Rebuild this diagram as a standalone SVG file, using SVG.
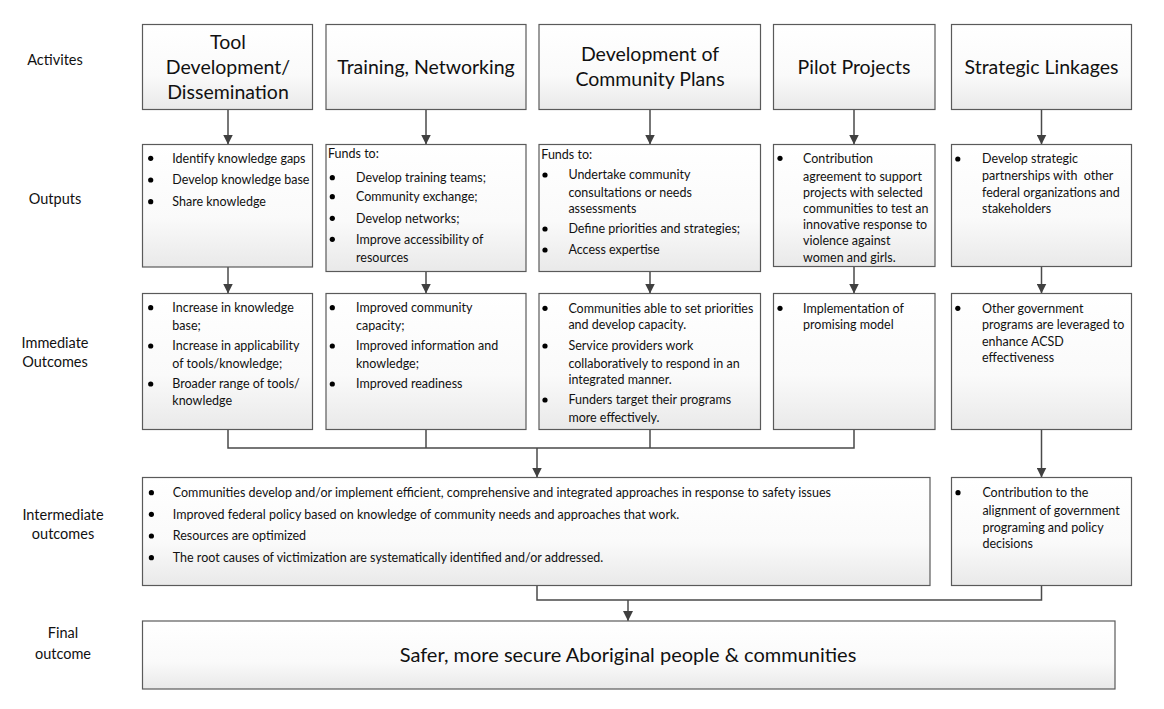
<svg xmlns="http://www.w3.org/2000/svg" width="1164" height="709" viewBox="0 0 1164 709">
<defs>
<linearGradient id="g" x1="0" y1="0" x2="0" y2="1">
<stop offset="0" stop-color="#ffffff"/>
<stop offset="0.6" stop-color="#fafafa"/>
<stop offset="1" stop-color="#e9e9e9"/>
</linearGradient>
<marker id="ah" markerWidth="10" markerHeight="10" refX="10" refY="5" orient="auto" markerUnits="userSpaceOnUse">
<path d="M0,0 L10,5 L0,10 z" fill="#404040"/>
</marker>
<style>
rect.b{fill:url(#g);stroke:#5a5a5a;stroke-width:1.2}
text{font-family:Lato,"Liberation Sans",sans-serif;fill:#111111}
.lbl{font-size:14.5px;text-anchor:middle}
.act{font-size:19.5px;text-anchor:middle}
.t{font-size:12.5px}
.ft{font-size:20px;text-anchor:middle}
circle{fill:#000}
.c path{fill:none;stroke:#4a4a4a;stroke-width:1.5}
</style>
</defs>
<rect width="1164" height="709" fill="#ffffff"/>

<g id="labels">
<text class="lbl" x="55" y="65">Activites</text>
<text class="lbl" x="55" y="204">Outputs</text>
<text class="lbl" x="55" y="348">Immediate</text>
<text class="lbl" x="55" y="367">Outcomes</text>
<text class="lbl" x="63" y="520">Intermediate</text>
<text class="lbl" x="63" y="539">outcomes</text>
<text class="lbl" x="63" y="638">Final</text>
<text class="lbl" x="63" y="659">outcome</text>
</g>

<g class="c" id="connectors">
<path d="M228,109.5 V144.5" marker-end="url(#ah)"/>
<path d="M426,109.5 V144.5" marker-end="url(#ah)"/>
<path d="M650,109.5 V144.5" marker-end="url(#ah)"/>
<path d="M854,109.5 V144.5" marker-end="url(#ah)"/>
<path d="M1041.5,109.5 V144.5" marker-end="url(#ah)"/>
<path d="M228,267 V293.5" marker-end="url(#ah)"/>
<path d="M426,271.5 V293.5" marker-end="url(#ah)"/>
<path d="M650,271.5 V293.5" marker-end="url(#ah)"/>
<path d="M854,266.5 V293.5" marker-end="url(#ah)"/>
<path d="M1041.5,266.5 V293.5" marker-end="url(#ah)"/>
<path d="M228,429.5 V448 H854 V429.5"/>
<path d="M426,429.5 V448"/>
<path d="M650,429.5 V448"/>
<path d="M537,448 V477.5" marker-end="url(#ah)"/>
<path d="M1041.5,429.5 V477.5" marker-end="url(#ah)"/>
<path d="M537,585.5 V600 H1041.5 V585.5"/>
<path d="M628,600 V621" marker-end="url(#ah)"/>
</g>

<g id="act1"><rect class="b" x="142.5" y="24.5" width="170" height="85"/>
<text class="act" x="228" y="48.5">Tool</text>
<text class="act" x="228" y="73.5">Development/</text>
<text class="act" x="228" y="98.5">Dissemination</text></g>
<g id="act2"><rect class="b" x="326" y="24.5" width="200" height="85"/>
<text class="act" x="426" y="73.5">Training, Networking</text></g>
<g id="act3"><rect class="b" x="539" y="24.5" width="221.5" height="85"/>
<text class="act" x="650" y="60.5">Development of</text>
<text class="act" x="650" y="86">Community Plans</text></g>
<g id="act4"><rect class="b" x="773.5" y="24.5" width="161.5" height="85"/>
<text class="act" x="854" y="73.5">Pilot Projects</text></g>
<g id="act5"><rect class="b" x="951.5" y="24.5" width="180" height="85"/>
<text class="act" x="1041.5" y="73.5">Strategic Linkages</text></g>

<g id="out1"><rect class="b" x="142.5" y="144.5" width="170" height="122.5"/>
<circle cx="150.7" cy="158.3" r="2.6"/><text class="t" x="172.3" y="162.5">Identify knowledge gaps</text>
<circle cx="150.7" cy="180" r="2.6"/><text class="t" x="172.3" y="184.2">Develop knowledge base</text>
<circle cx="150.7" cy="201.7" r="2.6"/><text class="t" x="172.3" y="205.9">Share knowledge</text></g>
<g id="out2"><rect class="b" x="326" y="144.5" width="200" height="127"/>
<text class="t" x="328" y="158.2">Funds to:</text>
<circle cx="332.3" cy="177.7" r="2.6"/><text class="t" x="356" y="181.9">Develop training teams;</text>
<circle cx="332.3" cy="196.7" r="2.6"/><text class="t" x="356" y="200.9">Community exchange;</text>
<circle cx="332.3" cy="218.3" r="2.6"/><text class="t" x="356" y="222.5">Develop networks;</text>
<circle cx="332.3" cy="239.3" r="2.6"/><text class="t" x="356" y="243.5">Improve accessibility of</text>
<text class="t" x="356" y="261.9">resources</text></g>
<g id="out3"><rect class="b" x="539" y="144.5" width="221.5" height="127"/>
<text class="t" x="541.3" y="159.2">Funds to:</text>
<circle cx="545" cy="175" r="2.6"/><text class="t" x="568.4" y="179.2">Undertake community</text>
<text class="t" x="568.4" y="196.5">consultations or needs</text>
<text class="t" x="568.4" y="213.2">assessments</text>
<circle cx="545" cy="229" r="2.6"/><text class="t" x="568.4" y="233.2">Define priorities and strategies;</text>
<circle cx="545" cy="250" r="2.6"/><text class="t" x="568.4" y="254.2">Access expertise</text></g>
<g id="out4"><rect class="b" x="773.5" y="144.5" width="161.5" height="122"/>
<circle cx="780" cy="158.3" r="2.6"/><text class="t" x="803" y="162.5">Contribution</text>
<text class="t" x="803" y="180.9">agreement to support</text>
<text class="t" x="803" y="196.9">projects with selected</text>
<text class="t" x="803" y="213.2">communities to test an</text>
<text class="t" x="803" y="229.2">innovative response to</text>
<text class="t" x="803" y="245.2">violence against</text>
<text class="t" x="803" y="261.5">women and girls.</text></g>
<g id="out5"><rect class="b" x="951.5" y="144.5" width="180" height="122"/>
<circle cx="957.8" cy="159" r="2.6"/><text class="t" x="982" y="163.2">Develop strategic</text>
<text class="t" x="982" y="180.2" xml:space="preserve">partnerships with  other</text>
<text class="t" x="982" y="196.5">federal organizations and</text>
<text class="t" x="982" y="213.2">stakeholders</text></g>

<g id="imm1"><rect class="b" x="142.5" y="293.5" width="170" height="136"/>
<circle cx="150.7" cy="307.7" r="2.6"/><text class="t" x="172.3" y="311.9">Increase in knowledge</text>
<text class="t" x="172.3" y="329.9">base;</text>
<circle cx="150.7" cy="346" r="2.6"/><text class="t" x="172.3" y="350.2">Increase in applicability</text>
<text class="t" x="172.3" y="368.2">of tools/knowledge;</text>
<circle cx="150.7" cy="384" r="2.6"/><text class="t" x="172.3" y="388.2">Broader range of tools/</text>
<text class="t" x="172.3" y="405.2">knowledge</text></g>
<g id="imm2"><rect class="b" x="326" y="293.5" width="200" height="136"/>
<circle cx="332.3" cy="307.7" r="2.6"/><text class="t" x="356" y="311.9">Improved community</text>
<text class="t" x="356" y="329.9">capacity;</text>
<circle cx="332.3" cy="346" r="2.6"/><text class="t" x="356" y="350.2">Improved information and</text>
<text class="t" x="356" y="368.2">knowledge;</text>
<circle cx="332.3" cy="384" r="2.6"/><text class="t" x="356" y="388.2">Improved readiness</text></g>
<g id="imm3"><rect class="b" x="539" y="293.5" width="221.5" height="136"/>
<circle cx="545" cy="308.3" r="2.6"/><text class="t" x="568.4" y="312.5">Communities able to set priorities</text>
<text class="t" x="568.4" y="329.2">and develop capacity.</text>
<circle cx="545" cy="346" r="2.6"/><text class="t" x="568.4" y="350.2">Service providers work</text>
<text class="t" x="568.4" y="368.2">collaboratively to respond in an</text>
<text class="t" x="568.4" y="384.2">integrated manner.</text>
<circle cx="545" cy="400" r="2.6"/><text class="t" x="568.4" y="404.2">Funders target their programs</text>
<text class="t" x="568.4" y="421.9">more effectively.</text></g>
<g id="imm4"><rect class="b" x="773.5" y="293.5" width="161.5" height="136"/>
<circle cx="780" cy="308.3" r="2.6"/><text class="t" x="803" y="312.5">Implementation of</text>
<text class="t" x="803" y="329.2">promising model</text></g>
<g id="imm5"><rect class="b" x="951.5" y="293.5" width="180" height="136"/>
<circle cx="957.8" cy="308.3" r="2.6"/><text class="t" x="982" y="312.5">Other government</text>
<text class="t" x="982" y="329.2">programs are leveraged to</text>
<text class="t" x="982" y="345.9">enhance ACSD</text>
<text class="t" x="982" y="361.9">effectiveness</text></g>

<g id="int1"><rect class="b" x="142.5" y="477.5" width="787.5" height="108"/>
<circle cx="151.4" cy="492.7" r="2.6"/><text class="t" x="172.8" y="496.9">Communities develop and/or implement efficient, comprehensive and integrated approaches in response to safety issues</text>
<circle cx="151.4" cy="514.3" r="2.6"/><text class="t" x="172.8" y="518.5">Improved federal policy based on knowledge of community needs and approaches that work.</text>
<circle cx="151.4" cy="536" r="2.6"/><text class="t" x="172.8" y="540.2">Resources are optimized</text>
<circle cx="151.4" cy="557.7" r="2.6"/><text class="t" x="172.8" y="561.9">The root causes of victimization are systematically identified and/or addressed.</text></g>
<g id="int2"><rect class="b" x="951.5" y="477.5" width="180" height="108"/>
<circle cx="958" cy="492.7" r="2.6"/><text class="t" x="982.4" y="496.9">Contribution to the</text>
<text class="t" x="982.4" y="515.2">alignment of government</text>
<text class="t" x="982.4" y="531.5">programing and policy</text>
<text class="t" x="982.4" y="547.5">decisions</text></g>

<g id="final"><rect class="b" x="142.5" y="621" width="972.5" height="68"/>
<text class="ft" x="628" y="662">Safer, more secure Aboriginal people &amp; communities</text></g>
</svg>
